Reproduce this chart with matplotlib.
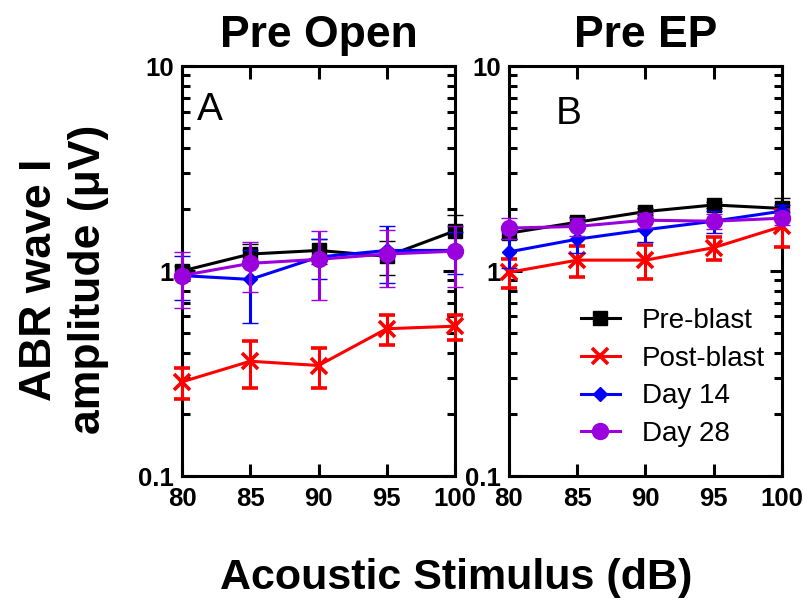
import matplotlib
matplotlib.use("Agg")
import matplotlib.pyplot as plt
from matplotlib.lines import Line2D
from matplotlib.ticker import LogLocator, NullFormatter, FixedLocator, FixedFormatter

# sound levels (dB)
levels = [80, 85, 90, 95, 100]
groups = ["Pre-blast", "Post-blast", "Day 14", "Day 28"]

# panel A: Pre Open, mean and SEM (uV)
open_pre = [1.00, 1.21, 1.26, 1.18, 1.57]
open_pre_sem = [0.06, 0.15, 0.18, 0.22, 0.30]
open_post = [0.288, 0.363, 0.346, 0.523, 0.538]
open_post_sem = [0.050, 0.093, 0.077, 0.088, 0.075]
open_d14 = [0.95, 0.91, 1.17, 1.26, 1.26]
open_d14_sem = [0.23, 0.35, 0.26, 0.39, 0.29]
open_d28 = [0.95, 1.09, 1.14, 1.21, 1.25]
open_d28_sem = [0.29, 0.30, 0.42, 0.37, 0.41]

# panel B: Pre EP
ep_pre = [1.53, 1.73, 1.95, 2.10, 2.02]
ep_pre_sem = [0.10, 0.10, 0.08, 0.08, 0.25]
ep_post = [0.985, 1.13, 1.13, 1.30, 1.65]
ep_post_sem = [0.155, 0.20, 0.215, 0.17, 0.34]
ep_d14 = [1.24, 1.43, 1.59, 1.75, 1.96]
ep_d14_sem = [0.20, 0.20, 0.21, 0.21, 0.15]
ep_d28 = [1.62, 1.65, 1.77, 1.75, 1.81]
ep_d28_sem = [0.19, 0.17, 0.145, 0.145, 0.13]

colors = ["black", "#ff0000", "#0000ff", "#9900dd"]
markers = ["s", "x", "D", "o"]
msizes = [10, 11, 7, 11.5]
medge = [1, 2.6, 1, 1]
lw = 2.2

plt.rcParams["font.family"] = ["Liberation Sans", "DejaVu Sans"]

fig = plt.figure(figsize=(8.04, 6.03), dpi=100)
ax_a = fig.add_axes([0.2264, 0.2106, 0.3395, 0.6799])
ax_b = fig.add_axes([0.6330, 0.2106, 0.3396, 0.6799])

panels = [
    (ax_a, "Pre Open", "A", (0.103, 0.893), [open_pre, open_post, open_d14, open_d28],
     [open_pre_sem, open_post_sem, open_d14_sem, open_d28_sem]),
    (ax_b, "Pre EP", "B", (0.22, 0.883), [ep_pre, ep_post, ep_d14, ep_d28],
     [ep_pre_sem, ep_post_sem, ep_d14_sem, ep_d28_sem]),
]

for ax, title, letter, lpos, means, sems in panels:
    for i in range(4):
        ax.errorbar(levels, means[i], yerr=sems[i], color=colors[i],
                    marker=markers[i], markersize=msizes[i],
                    markeredgewidth=medge[i], linewidth=lw, elinewidth=lw,
                    capsize=5.5, capthick=lw, zorder=3 + i, clip_on=False)
    ax.set_yscale("log")
    ax.set_ylim(0.1, 10)
    ax.set_xlim(80, 100)
    ax.set_xticks(levels)
    ax.set_xticklabels([str(v) for v in levels], fontweight="bold", fontsize=18.5)
    ax.yaxis.set_major_locator(FixedLocator([0.1, 1, 10]))
    ax.yaxis.set_major_formatter(FixedFormatter(["0.1", "1", "10"]))
    ax.yaxis.set_minor_locator(LogLocator(base=10, subs=range(2, 10)))
    ax.yaxis.set_minor_formatter(NullFormatter())
    for lab in ax.get_yticklabels():
        lab.set_fontweight("bold")
        lab.set_fontsize(18.5)
    ax.tick_params(which="major", direction="in", length=9, width=2.2,
                   top=True, right=True)
    ax.tick_params(which="minor", direction="in", length=6, width=2.2,
                   right=True, left=True)
    ax.tick_params(axis="x", which="major", pad=8)
    ax.tick_params(axis="y", which="major", pad=6)
    for sp in ax.spines.values():
        sp.set_linewidth(2.2)
    ax.set_title(title, fontweight="bold", fontsize=32, pad=14)
    ax.text(lpos[0], lpos[1], letter, transform=ax.transAxes, fontsize=28,
            ha="center", va="center")

handles = [Line2D([], [], color=colors[i], marker=markers[i],
                  markersize=msizes[i], markeredgewidth=medge[i], linewidth=lw)
           for i in range(4)]
ax_b.legend(handles, groups, loc="center", bbox_to_anchor=(0.6, 0.24),
            frameon=False, fontsize=20, handlelength=1.4, labelspacing=0.42,
            handletextpad=0.8, borderaxespad=0.0, borderpad=0.0)

fig.text(0.0796, 0.536, "ABR wave I\namplitude (\u03bcV)", rotation=90,
         ha="center", va="center", fontsize=32, fontweight="bold",
         multialignment="center", linespacing=1.25)
fig.text(0.568, 0.023, "Acoustic Stimulus (dB)", ha="center", va="baseline",
         fontsize=31, fontweight="bold")

fig.savefig("out.png", dpi=100)
